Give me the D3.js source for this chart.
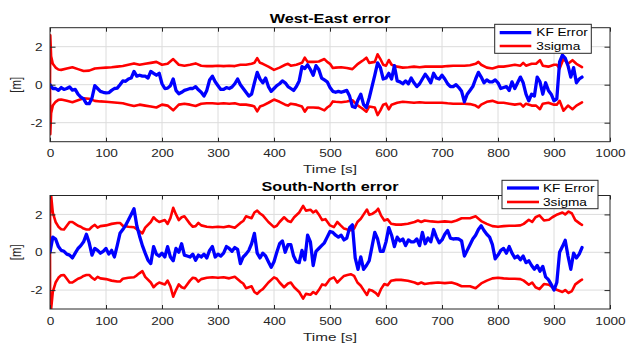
<!DOCTYPE html>
<html>
<head>
<meta charset="utf-8">
<script src="https://cdn.jsdelivr.net/npm/d3@7/dist/d3.min.js"></script>
<style>
html,body{margin:0;padding:0;background:#fff;}
svg{display:block;}
text{font-family:"Liberation Sans",Arial,Helvetica,sans-serif;}
</style>
</head>
<body>
<svg id="chart" width="628" height="344"></svg>
<script>
// ---------- DATA ----------
const timeKF = d3.range(0, 955, 5); // 0..950 s, 5 s step

const kfWE = [
  0.0,-0.2,-0.2,-0.3,-0.15,-0.25,-0.2,-0.12,-0.28,-0.25,
  -0.5,-0.65,-0.75,-1.0,-1.0,-0.7,-0.05,-0.2,-0.35,-0.4,
  -0.43,-0.42,-0.3,-0.2,-0.18,0.0,0.2,0.18,0.3,0.35,
  0.7,0.45,0.5,0.45,0.45,0.35,0.7,0.6,0.5,0.6,
  0.05,-0.2,-0.18,-0.05,0.3,-0.3,-0.48,-0.4,-0.3,-0.25,
  -0.2,-0.2,-0.1,-0.27,-0.4,-0.6,-0.3,0.25,0.45,0.15,
  -0.05,-0.25,-0.25,-0.15,-0.2,-0.12,0.05,0.3,0.0,-0.2,
  -0.4,-0.6,-0.5,0.1,0.65,0.3,0.1,0.35,-0.1,-0.35,
  -0.2,-0.05,0.05,0.2,0.1,-0.1,-0.2,-0.3,-0.1,0.2,
  0.95,0.85,1.05,0.8,0.5,1.0,0.8,0.35,0.25,0.15,
  -0.15,-0.35,-0.4,-0.35,-0.4,-0.35,-0.3,-0.6,-1.15,-1.2,
  -0.8,-0.5,-1.05,-1.2,-0.7,-0.1,0.5,1.15,0.9,0.3,
  0.35,0.6,0.3,1.0,0.2,0.15,0.05,0.2,0.05,0.35,
  0.1,-0.1,0.05,0.3,0.55,0.35,0.1,0.6,0.35,0.3,
  0.5,0.3,0.05,-0.1,-0.1,0.0,-0.15,-0.35,-0.9,-0.5,
  -0.3,-0.1,0.3,0.65,0.4,0.1,0.25,0.15,0.15,0.25,
  0.1,-0.2,-0.15,-0.1,-0.3,0.15,-0.2,0.1,0.4,0.1,
  -0.5,-0.85,-0.5,-0.6,0.4,0.15,-0.5,0.1,-0.3,-0.5,
  -0.85,-0.75,1.2,1.55,1.4,1.0,0.4,0.9,0.1,0.3,
  0.4
];

const kfSN = [
  0.0,0.8,0.7,0.3,0.1,0.05,-0.1,-0.15,-0.3,-0.05,
  0.2,0.35,0.55,0.95,0.5,-0.15,0.2,0.1,-0.05,0.05,
  0.2,-0.1,0.1,-0.25,0.35,1.0,1.2,1.42,1.7,2.0,
  2.3,1.4,0.85,0.35,-0.05,-0.42,-0.6,0.3,-0.1,-0.2,
  -0.05,-0.25,0.3,-0.25,-0.45,0.2,0.0,0.45,-0.15,-0.2,
  -0.25,-0.1,-0.42,-0.15,-0.25,-0.1,-0.3,0.1,0.3,-0.25,
  -0.1,-0.2,-0.05,0.3,0.2,0.05,0.25,0.15,-0.6,-0.25,
  -0.1,0.1,0.45,1.0,-0.05,-0.3,-0.05,-0.2,-0.5,-0.8,
  -0.5,0.0,0.45,0.6,0.0,0.4,0.4,-0.2,-0.5,-0.55,
  0.1,-0.4,0.9,0.55,-0.7,0.05,0.2,0.35,0.5,0.8,
  1.1,1.05,0.9,0.8,0.9,0.65,0.75,1.3,1.45,-0.3,
  -0.9,-0.25,-0.9,-0.7,-0.45,0.3,1.05,0.7,0.05,0.05,
  0.55,1.3,0.9,0.3,0.8,0.6,0.7,0.35,0.65,0.55,
  0.55,0.7,0.35,1.05,0.45,0.75,0.55,1.2,0.8,0.5,
  0.65,0.95,1.15,0.75,0.7,0.72,0.7,0.6,-0.2,0.1,
  0.4,0.7,0.9,1.2,1.4,1.15,0.95,0.8,0.4,-0.35,
  -0.15,0.1,0.2,-0.05,0.3,-0.05,-0.3,-0.2,-0.4,-0.2,
  -0.55,-0.45,-0.7,-0.9,-0.7,-1.0,-0.75,-1.3,-1.45,-1.7,
  -2.0,-1.6,0.0,0.3,0.63,-0.2,-0.9,-0.05,-0.3,-0.1,
  0.25
];

// 3-sigma bound [time, value]; drawn as +value and -value
const sigWE = [
  [0,0],[0.5,2.6],[2,1.5],[5,1.1],[10,0.9],[15,0.8],[20,0.78],[30,0.85],[40,0.92],[50,0.82],
  [60,0.72],[70,0.74],[80,0.85],[90,0.88],[100,0.9],[110,0.92],[120,0.95],[130,0.98],[140,1.05],[150,1.12],
  [160,1.05],[170,1.1],[180,1.15],[190,1.2],[200,1.05],[210,1.1],[220,1.35],[230,1.05],[240,1.0],[250,1.05],
  [260,1.12],[270,1.0],[280,0.98],[290,0.98],[300,1.0],[310,0.98],[320,1.0],[330,0.98],[340,1.05],[350,1.05],
  [360,1.1],[365,1.15],[370,1.4],[375,1.15],[380,1.1],[390,0.95],[400,0.78],[410,0.9],[420,1.05],[425,1.1],
  [430,1.0],[440,1.05],[450,1.15],[455,1.42],[460,1.2],[470,1.2],[480,1.22],[490,1.35],[495,1.2],[500,1.1],
  [505,0.88],[510,0.9],[520,0.92],[530,0.88],[540,0.82],[550,1.1],[555,1.2],[560,1.3],[565,1.42],[570,1.15],
  [580,1.2],[585,1.6],[590,1.35],[595,1.05],[600,1.0],[605,1.3],[610,1.05],[620,0.95],[630,0.9],[640,0.92],
  [650,0.95],[660,0.92],[670,0.95],[680,0.95],[690,0.95],[700,0.95],[710,0.98],[720,1.0],[730,1.0],[740,1.0],
  [750,1.02],[760,1.1],[765,1.2],[770,1.05],[780,0.9],[790,0.85],[800,0.95],[810,0.95],[820,1.0],[830,1.05],
  [840,1.0],[845,1.15],[850,1.0],[860,1.1],[868,1.1],[875,1.29],[880,1.0],[890,0.95],[900,1.05],[905,1.05],
  [910,0.85],[917,1.37],[925,1.1],[933,1.29],[940,1.1],[950,0.93]
];

const sigSN = [
  [0,0],[0.5,6],[2,3.0],[5,2.1],[10,1.6],[15,1.35],[20,1.22],[25,1.2],[30,1.4],[35,1.6],
  [40,1.6],[45,1.5],[50,1.4],[55,1.35],[60,1.25],[65,1.2],[70,1.2],[75,1.35],[80,1.45],[85,1.3],
  [90,1.38],[100,1.42],[110,1.5],[120,1.55],[125,1.55],[130,1.4],[140,1.35],[150,1.32],[155,1.22],[160,1.1],
  [165,1.0],[170,1.3],[180,1.6],[185,1.85],[190,1.7],[195,1.6],[200,1.65],[205,1.7],[210,1.5],[215,1.8],
  [220,2.35],[225,2.0],[230,1.7],[235,1.85],[240,1.9],[250,1.5],[255,1.35],[260,1.38],[265,1.55],[270,1.42],
  [280,1.35],[290,1.32],[300,1.35],[310,1.32],[320,1.38],[330,1.3],[340,1.55],[345,1.65],[350,1.9],[355,1.85],
  [360,1.8],[365,2.1],[370,2.2],[375,2.05],[380,1.95],[390,1.6],[400,1.33],[405,1.4],[410,1.6],[418,1.85],
  [425,1.65],[430,1.6],[436,1.85],[445,2.1],[452,2.45],[457,2.2],[465,2.25],[470,2.1],[475,2.2],[480,2.0],
  [486,1.7],[492,1.75],[500,1.42],[507,1.33],[513,1.6],[519,1.42],[525,1.25],[531,1.2],[537,1.16],[543,1.25],
  [549,1.6],[555,1.77],[561,2.04],[566,2.26],[570,1.98],[576,2.04],[582,2.16],[586,2.3],[591,1.95],[597,1.68],
  [603,1.74],[609,1.51],[618,1.46],[627,1.46],[639,1.51],[651,1.6],[657,1.68],[663,1.6],[669,1.68],[681,1.63],
  [693,1.6],[705,1.63],[717,1.6],[726,1.68],[735,1.8],[740,1.8],[750,1.8],[760,1.9],[770,1.65],[780,1.5],
  [790,1.38],[800,1.35],[810,1.38],[820,1.4],[830,1.4],[840,1.42],[846,1.5],[855,1.72],[861,1.6],[867,1.85],
  [874,1.95],[882,1.68],[891,1.72],[897,1.85],[906,2.0],[915,2.1],[920,2.0],[926,2.15],[932,2.05],[938,1.7],
  [947,1.5],[950,1.45]
];

const xTicks = [0,100,200,300,400,500,600,700,800,900,1000];
const yTicks = [-2,0,2];
const titles = ["West-East error", "South-North error"];
const legendLabels = ["KF Error", "3sigma"];
const xLabel = "Time [s]";
const yLabel = "[m]";

// ---------- LAYOUT ----------
const svg = d3.select("#chart");
const SX = 1.3; // horizontal text stretch
const TXT = "#262626";
const panels = [
  {top:27.7, bottom:141.7, kf:kfWE, sig:sigWE, title:titles[0], titleY:22.7, xlabY:173,
   leg:{x:494.7, y:24.3, w:96.6, h:29, r1:32.7, r2:46.0, lx0:499.7, lx1:531.3, tx:536.3}},
  {top:195.5, bottom:309, kf:kfSN, sig:sigSN, title:titles[1], titleY:191.3, xlabY:341,
   leg:{x:502, y:180.3, w:96, h:28.4, r1:188.0, r2:202.0, lx0:507, lx1:539, tx:543}}
];
const X0 = 50, X1 = 610;
const x = d3.scaleLinear().domain([0,1000]).range([X0, X1]);

function stext(g, tx, ty, str, size, anchor, weight) {
  return g.append("text")
    .attr("transform", `translate(${tx},${ty}) scale(${SX},1)`)
    .attr("font-size", size).attr("text-anchor", anchor || "start")
    .attr("font-weight", weight || "normal")
    .attr("fill", TXT).text(str);
}

panels.forEach((p, pi) => {
  const y = d3.scaleLinear().domain([-3,3]).range([p.bottom, p.top]);
  const g = svg.append("g");
  const H = p.bottom - p.top;

  g.append("rect").attr("x", X0).attr("y", p.top).attr("width", X1-X0).attr("height", H).attr("fill", "#fff");

  // grid
  g.append("g").selectAll("line").data(xTicks.slice(1, -1)).join("line")
    .attr("x1", d => x(d)).attr("x2", d => x(d)).attr("y1", p.top).attr("y2", p.bottom)
    .attr("stroke", "#dcdcdc").attr("stroke-width", 1);
  g.append("g").selectAll("line").data(yTicks).join("line")
    .attr("x1", X0).attr("x2", X1).attr("y1", d => y(d)).attr("y2", d => y(d))
    .attr("stroke", "#dcdcdc").attr("stroke-width", 1);

  const cid = "clip" + pi;
  svg.append("clipPath").attr("id", cid).append("rect")
    .attr("x", X0).attr("y", p.top).attr("width", X1-X0).attr("height", H);
  const plot = g.append("g").attr("clip-path", `url(#${cid})`);

  const line = d3.line().x(d => x(d[0])).y(d => y(d[1]));
  const sigUp = p.sig.map(d => [d[0], d[1]]);
  const sigDn = p.sig.map(d => [d[0], -d[1]]);
  [sigUp, sigDn].forEach(s => {
    plot.append("path").datum(s).attr("d", line)
      .attr("fill", "none").attr("stroke", "#ff0000").attr("stroke-width", 2.6)
      .attr("stroke-linejoin", "round").attr("stroke-linecap", "round");
  });
  const kfData = p.kf.map((v, i) => [timeKF[i], v]);
  plot.append("path").datum(kfData).attr("d", line)
    .attr("fill", "none").attr("stroke", "#0000ff").attr("stroke-width", 3.3)
    .attr("stroke-linejoin", "round").attr("stroke-linecap", "round");

  const ax = g.append("g").attr("transform", `translate(0,${p.bottom})`)
    .call(d3.axisBottom(x).tickValues(xTicks).tickSizeInner(-4).tickSizeOuter(0).tickFormat(d3.format("d")));
  ax.select(".domain").remove();
  ax.selectAll(".tick line").attr("stroke", TXT);
  ax.selectAll(".tick text").attr("y", 0).attr("dy", 0)
    .attr("transform", `translate(0,15.6) scale(${SX},1)`)
    .attr("font-size", 10.5).attr("fill", TXT).attr("font-family", null);

  const axT = g.append("g").attr("transform", `translate(0,${p.top})`)
    .call(d3.axisTop(x).tickValues(xTicks).tickSizeInner(-4).tickSizeOuter(0).tickFormat(""));
  axT.select(".domain").remove();
  axT.selectAll(".tick line").attr("stroke", TXT);

  const ay = g.append("g").attr("transform", `translate(${X0},0)`)
    .call(d3.axisLeft(y).tickValues(yTicks).tickSizeInner(-5.5).tickSizeOuter(0).tickFormat(d3.format("d")));
  ay.select(".domain").remove();
  ay.selectAll(".tick line").attr("stroke", TXT);
  ay.selectAll(".tick text").attr("x", 0).attr("dy", "0.35em")
    .attr("transform", `translate(-7.3,0) scale(${SX},1)`)
    .attr("font-size", 10.5).attr("fill", TXT).attr("font-family", null)
    .text(d => d < 0 ? "-" + Math.abs(d) : String(d));

  const ayR = g.append("g").attr("transform", `translate(${X1},0)`)
    .call(d3.axisRight(y).tickValues(yTicks).tickSizeInner(-5.5).tickSizeOuter(0).tickFormat(""));
  ayR.select(".domain").remove();
  ayR.selectAll(".tick line").attr("stroke", TXT);

  g.append("rect").attr("x", X0).attr("y", p.top).attr("width", X1-X0).attr("height", H)
    .attr("fill", "none").attr("stroke", TXT).attr("stroke-width", 1);

  stext(g, (X0+X1)/2, p.titleY, p.title, 12.5, "middle", "bold").attr("fill", "#000");
  stext(g, (X0+X1)/2, p.xlabY, xLabel, 11.8, "middle");
  g.append("text")
    .attr("transform", `translate(21,${(p.top+p.bottom)/2}) rotate(-90) scale(1,${SX})`)
    .attr("font-size", 11.5).attr("text-anchor", "middle").attr("fill", TXT).text(yLabel);

  const L = p.leg;
  const lg = g.append("g");
  lg.append("rect").attr("x", L.x).attr("y", L.y).attr("width", L.w).attr("height", L.h)
    .attr("fill", "#fff").attr("stroke", TXT).attr("stroke-width", 1);
  [[L.r1, "#0000ff", legendLabels[0], 3.3], [L.r2, "#ff0000", legendLabels[1], 2.6]].forEach(r => {
    lg.append("line").attr("x1", L.lx0).attr("x2", L.lx1).attr("y1", r[0]).attr("y2", r[0])
      .attr("stroke", r[1]).attr("stroke-width", r[3]);
    stext(lg, L.tx, r[0] + 3.7, r[2], 10.5, "start").attr("fill", "#000");
  });
});
</script>
</body>
</html>
